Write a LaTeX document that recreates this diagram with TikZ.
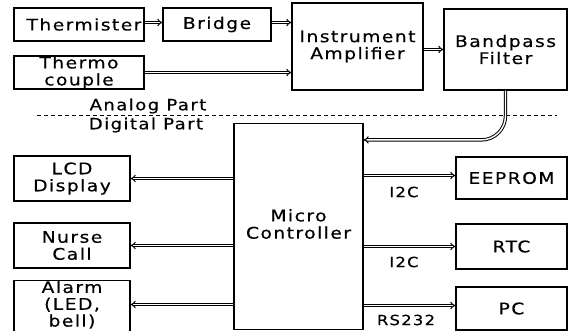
\documentclass[tikz,border=0pt]{standalone}
\usepackage{fontspec}
\setmainfont{DejaVu Sans}[FakeStretch=1.17, LetterSpace=9, FakeBold=0.4]
\usetikzlibrary{arrows.meta,calc}
\begin{document}
\begin{tikzpicture}[x=1pt,y=-1pt,
  box/.style={draw, line width=1.2pt, inner sep=0pt, align=center,
    font=\fontsize{16}{17}\selectfont},
  link/.style={draw, double, double distance=1.4pt, line width=1pt, -{Implies}},
  lbl/.style={font=\fontsize{14}{15}\selectfont, inner sep=0pt},
  sep/.style={draw, line width=1pt, dash pattern=on 4pt off 3pt}]
\useasboundingbox[fill=white] (0,0) rectangle (571,330);
% helper levels
\coordinate (ya) at (0,22.5);
\coordinate (yb) at (0,304.5);
\coordinate (yc) at (0,175.5);
\coordinate (yd) at (0,305.5);
% analog part
\node[box, minimum width=130pt, minimum height=33pt] (therm) at (79,24.5) {\hspace*{10pt}Thermister};
\node[box, minimum width=108pt, minimum height=33pt] (bridge) at (217,24.5) {Bridge};
\node[box, minimum width=130pt, minimum height=33pt] (tc) at (79,72.5) {Thermo\\couple};
\node[box, minimum width=131pt, minimum height=87pt] (amp) at (357.5,46.5) {Instrument\\Amplifier};
\node[box, minimum width=123pt, minimum height=81pt] (bpf) at (505.5,49.5) {Bandpass\\Filter};
% separator
\coordinate (sepl) at (37,115.5);
\coordinate (sepr) at (557,115.5);
\draw[sep] (sepl) -- (sepr);
\node[lbl, font=\fontsize{15.5}{16}\selectfont] (analog) at (148,106) {Analog Part};
\node[lbl, font=\fontsize{15.5}{16}\selectfont] (digital) at (146,125) {Digital Part};
% digital part
\node[box, minimum width=129pt, minimum height=206pt] (mcu) at (298.5,226.5)
  {\raisebox{13pt}{\begin{tabular}{@{}c@{}}Micro\\Controller\end{tabular}}};
\node[box, minimum width=116pt, minimum height=45pt] (lcd) at (72,178.5) {LCD\\Display};
\node[box, minimum width=116pt, minimum height=45pt] (nurse) at (72,245.5) {Nurse\\Call};
\node[box, minimum width=116pt, minimum height=47pt, font=\fontsize{16}{15.5}\selectfont] (alarm) at (72,306)
  {\raisebox{3pt}{\begin{tabular}{@{}c@{}}Alarm\\(LED,\\bell)\end{tabular}}};
\node[box, minimum width=111pt, minimum height=42pt] (eeprom) at (511.5,178) {EEPROM};
\node[box, minimum width=111pt, minimum height=45pt] (rtc) at (511.5,246.5) {RTC};
\node[box, minimum width=111pt, minimum height=43pt] (pc) at (511.5,308.5) {PC};
% connectors
\draw[link] (therm.east |- ya) -- (bridge.west |- ya);
\draw[link] (bridge.east |- ya) -- (amp.west |- ya);
\draw[link] (tc.east) -- (amp.west |- tc.east);
\draw[link] (amp.east |- bpf.west) -- (bpf.west);
\coordinate (mcin) at ($(mcu.north east)+(0,17)$);
\draw[link, rounded corners=24pt] (bpf.south) |- (mcin);
\draw[link] (mcu.west |- lcd.east) -- (lcd.east);
\draw[link] (mcu.west |- nurse.east) -- (nurse.east);
\draw[link] (mcu.west |- yb) -- (alarm.east |- yb);
\draw[link] (mcu.east |- yc) -- (eeprom.west |- yc);
\draw[link] (mcu.east |- rtc.west) -- (rtc.west);
\draw[link] (mcu.east |- yd) -- (pc.west |- yd);
\node[lbl] (i2ca) at (404,192) {I2C};
\node[lbl] (i2cb) at (404,262) {I2C};
\node[lbl] (rs) at (406,320) {RS232};
\end{tikzpicture}
\end{document}
